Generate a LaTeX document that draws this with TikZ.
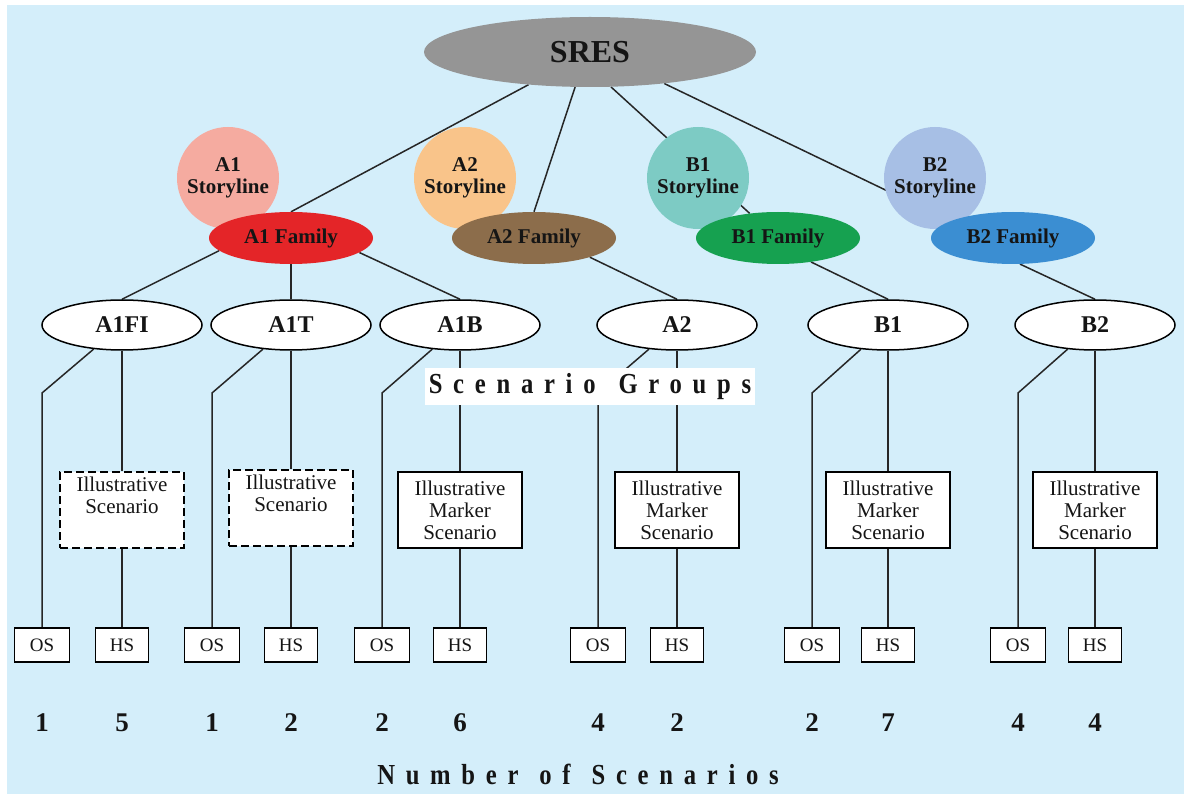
\documentclass[tikz,border=0pt]{standalone}
\usepackage{fontspec}
\setmainfont{Liberation Serif}
\newfontfamily\spacedfont[LetterSpace=37,FakeStretch=0.85]{Liberation Serif}
\usetikzlibrary{shapes.geometric}
\pgfdeclarelayer{bg}
\pgfdeclarelayer{lines}
\pgfsetlayers{bg,lines,main}
\definecolor{bgblue}{HTML}{D4EEFA}
\definecolor{sresgray}{HTML}{959595}
\definecolor{sla}{HTML}{F5ABA0}
\definecolor{slb}{HTML}{F9C48A}
\definecolor{slc}{HTML}{7DCBC4}
\definecolor{sld}{HTML}{A7BFE5}
\definecolor{fama}{HTML}{E42528}
\definecolor{famb}{HTML}{8C6D4B}
\definecolor{famc}{HTML}{16A150}
\definecolor{famd}{HTML}{3B8ED2}
\definecolor{linecol}{HTML}{262626}
\definecolor{txt}{HTML}{151515}
\begin{document}
\begin{tikzpicture}[x=1pt,y=-1pt,
  every node/.style={text=txt},
  sresnode/.style={ellipse,fill=sresgray,minimum width=332pt,minimum height=70pt,inner sep=0pt,font=\fontsize{32}{36}\selectfont\bfseries},
  storynode/.style={circle,minimum size=102pt,inner sep=0pt,align=center,font=\fontsize{21}{22}\selectfont\bfseries},
  famnode/.style={ellipse,minimum width=164pt,minimum height=52pt,inner sep=0pt,font=\fontsize{21}{22}\selectfont\bfseries},
  grpnode/.style={ellipse,draw=black,line width=1.5pt,fill=white,minimum width=160pt,minimum height=50pt,inner sep=0pt,font=\fontsize{24}{26}\selectfont\bfseries},
  illnode/.style={rectangle,draw=black,line width=1.5pt,fill=white,minimum width=124pt,minimum height=76pt,inner sep=0pt,align=center,font=\fontsize{21}{22}\selectfont},
  dashbox/.style={illnode,dash pattern=on 8pt off 4pt},
  osnode/.style={rectangle,draw=black,line width=1.4pt,fill=white,minimum width=55pt,minimum height=34pt,inner sep=0pt,font=\fontsize{19}{20}\selectfont},
  hsnode/.style={osnode,minimum width=53pt},
  numnode/.style={inner sep=0pt,font=\fontsize{27}{28}\selectfont\bfseries},
  spacedlabel/.style={inner sep=0pt,font=\fontsize{29}{30}\spacedfont\bfseries},
  conn/.style={draw=linecol,line width=1.5pt}
]
\useasboundingbox (0,0) rectangle (1184,794);
\begin{pgfonlayer}{bg}
\fill[white] (0,0) rectangle (1184,794);
\fill[bgblue] (7,5) rectangle (1184,794);
\end{pgfonlayer}

% top
\node[sresnode] (sres) at (590,52) {SRES};

% storylines
\node[storynode,fill=sla] (sa1) at (228,178) {A1\\Storyline};
\node[storynode,fill=slb] (sa2) at (465,178) {A2\\Storyline};
\node[storynode,fill=slc] (sb1) at (698,178) {B1\\Storyline};
\node[storynode,fill=sld] (sb2) at (935,178) {B2\\Storyline};

% families
\node[famnode,fill=fama] (a1fam) at (291,238) {A1 Family};
\node[famnode,fill=famb] (a2fam) at (534,238) {A2 Family};
\node[famnode,fill=famc] (b1fam) at (778,238) {B1 Family};
\node[famnode,fill=famd] (b2fam) at (1013,238) {B2 Family};

% groups
\node[grpnode] (a1fi) at (122,325) {A1FI};
\node[grpnode] (a1t) at (291,325) {A1T};
\node[grpnode] (a1b) at (460,325) {A1B};
\node[grpnode] (a2g) at (677,325) {A2};
\node[grpnode] (b1g) at (888,325) {B1};
\node[grpnode] (b2g) at (1095,325) {B2};

% label
\node[spacedlabel,fill=white,minimum width=330pt,minimum height=37pt] (sglabel) at (590,386.5) {Scenario\hspace{6pt} Groups};

% illustrative boxes
\node[dashbox] (il1) at (122,510) {Illustrative\\Scenario\\\strut};
\node[dashbox] (il2) at (291,508) {Illustrative\\Scenario\\\strut};
\node[illnode] (il3) at (460,510) {Illustrative\\Marker\\Scenario};
\node[illnode] (il4) at (677,510) {Illustrative\\Marker\\Scenario};
\node[illnode] (il5) at (888,510) {Illustrative\\Marker\\Scenario};
\node[illnode] (il6) at (1095,510) {Illustrative\\Marker\\Scenario};

% OS / HS boxes
\node[osnode] (os1) at (42,645) {OS};
\node[hsnode] (hs1) at (122,645) {HS};
\node[osnode] (os2) at (212,645) {OS};
\node[hsnode] (hs2) at (291,645) {HS};
\node[osnode] (os3) at (382,645) {OS};
\node[hsnode] (hs3) at (460,645) {HS};
\node[osnode] (os4) at (598,645) {OS};
\node[hsnode] (hs4) at (677,645) {HS};
\node[osnode] (os5) at (812,645) {OS};
\node[hsnode] (hs5) at (888,645) {HS};
\node[osnode] (os6) at (1018,645) {OS};
\node[hsnode] (hs6) at (1095,645) {HS};

% numbers
\node[numnode] (n1) at (42,723) {1};
\node[numnode] (n2) at (122,723) {5};
\node[numnode] (n3) at (212,723) {1};
\node[numnode] (n4) at (291,723) {2};
\node[numnode] (n5) at (382,723) {2};
\node[numnode] (n6) at (460,723) {6};
\node[numnode] (n7) at (598,723) {4};
\node[numnode] (n8) at (677,723) {2};
\node[numnode] (n9) at (812,723) {2};
\node[numnode] (n10) at (888,723) {7};
\node[numnode] (n11) at (1018,723) {4};
\node[numnode] (n12) at (1095,723) {4};

\node[spacedlabel] (nos) at (578,774) {Number\hspace{4pt} of\hspace{4pt} Scenarios};

% knees
\coordinate (k1) at (42,393);
\coordinate (k2) at (212,393);
\coordinate (k3) at (382,393);
\coordinate (k4) at (598,393);
\coordinate (k5) at (812,393);
\coordinate (k6) at (1018,393);

\begin{pgfonlayer}{lines}
\draw[conn] (sres.208) -- (a1fam.north);
\draw[conn] (sres.247) -- (a2fam.north);
\draw[conn] (sres.301) -- (b1fam.139);
\draw[conn] (sres.337) -- (b2fam.165);

\draw[conn] (a1fam.190) -- (a1fi.north);
\draw[conn] (a1fam.south) -- (a1t.north);
\draw[conn] (a1fam.348) -- (a1b.north);
\draw[conn] (a2fam.341) -- (a2g.north);
\draw[conn] (b1fam.324) -- (b1g.north);
\draw[conn] (b2fam.285) -- (b2g.north);

\foreach \g/\i/\h/\o/\k in {a1fi/il1/hs1/os1/k1, a1t/il2/hs2/os2/k2, a1b/il3/hs3/os3/k3, a2g/il4/hs4/os4/k4, b1g/il5/hs5/os5/k5, b2g/il6/hs6/os6/k6}{
  \draw[conn] (\g) -- (\i);
  \draw[conn] (\i) -- (\h);
  \draw[conn] (\g) -- (\k) -- (\o);
}
\end{pgfonlayer}
\end{tikzpicture}
\end{document}
